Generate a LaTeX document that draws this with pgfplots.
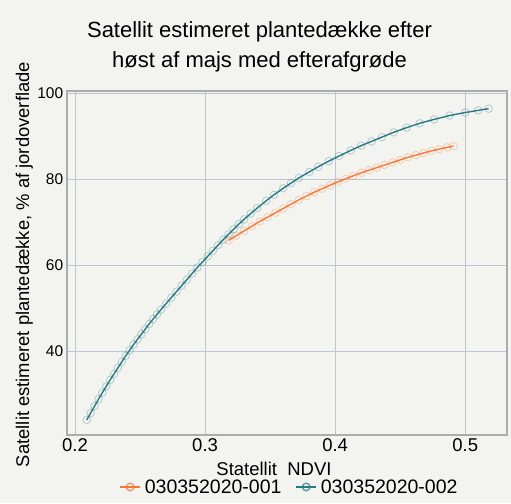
\documentclass[border=0pt]{standalone}
\usepackage{pgfplots}
\pgfplotsset{compat=1.18}
\usepackage{pgfplotstable}
\usepackage{fontspec}
\setmainfont{Liberation Sans}

\definecolor{bgcol}{RGB}{243,243,239}
\definecolor{gridcol}{RGB}{190,198,214}
\definecolor{framecol}{RGB}{172,172,172}
\definecolor{tealc}{RGB}{42,122,132}
\definecolor{orangec}{RGB}{245,122,58}

% 030352020-001
\pgfplotstableread{
x y
0.318 65.8
0.324 66.9
0.330 68.0
0.336 69.1
0.342 70.2
0.348 71.2
0.354 72.2
0.360 73.2
0.366 74.2
0.372 75.2
0.378 76.1
0.384 77.0
0.390 77.8
0.396 78.6
0.402 79.4
0.408 80.1
0.414 80.8
0.420 81.5
0.426 82.1
0.432 82.7
0.438 83.3
0.444 83.9
0.450 84.5
0.456 85.1
0.462 85.6
0.468 86.1
0.474 86.6
0.480 87.0
0.486 87.4
0.491 87.7
}\seriesA

% 030352020-002
\pgfplotstableread{
x y
0.209 24.1
0.212 25.7
0.215 27.3
0.218 28.9
0.221 30.4
0.224 31.9
0.227 33.4
0.230 34.8
0.233 36.2
0.236 37.6
0.239 39.0
0.242 40.3
0.245 41.6
0.248 42.8
0.251 44.0
0.254 45.2
0.257 46.4
0.260 47.5
0.263 48.6
0.266 49.7
0.270 51.1
0.274 52.5
0.278 53.9
0.282 55.3
0.286 56.7
0.290 58.1
0.294 59.5
0.298 60.8
0.302 62.1
0.306 63.4
0.310 64.7
0.314 66.0
0.318 67.2
0.322 68.4
0.326 69.6
0.330 70.7
0.335 72.0
0.340 73.3
0.347 75.0
0.353 76.4
0.360 77.9
0.366 79.1
0.372 80.3
0.380 81.7
0.387 82.9
0.395 84.2
0.403 85.4
0.412 86.7
0.420 87.8
0.428 88.8
0.436 89.8
0.445 90.9
0.455 92.0
0.465 93.0
0.476 93.9
0.488 94.8
0.500 95.5
0.510 96.0
0.518 96.4
}\seriesB

\begin{document}
\begin{tikzpicture}
\fill[bgcol] (0,0) rectangle (511pt,503pt);
\useasboundingbox (0,0) rectangle (511pt,503pt);
\begin{axis}[
  at={(66.7pt,68pt)}, anchor=south west,
  width=440.3pt, height=344pt, scale only axis,
  xmin=0.1936, xmax=0.5321,
  ymin=20.6, ymax=100.5,
  xtick={0.2,0.3,0.4,0.5},
  ytick={40,60,80,100},
  /pgf/number format/assume math mode=true,
  major tick length=0pt,
  grid=major,
  major grid style={draw=gridcol, line width=0.8pt},
  axis line style={draw=framecol, line width=1.6pt},
  xticklabel style={font=\fontsize{18.5}{20}\selectfont},
  yticklabel style={font=\fontsize{15.5}{18}\selectfont},
  title={Satellit estimeret plantedække efter\\høst af majs med efterafgrøde},
  title style={at={(rel axis cs:0.4379,1.1846)}, anchor=north, align=center,
    inner sep=0pt, font=\fontsize{22}{30}\selectfont},
  xlabel={Statellit~~NDVI},
  xlabel style={at={(rel axis cs:0.4708,-0.1163)}, anchor=base, inner sep=0pt,
    font=\fontsize{18.5}{20}\selectfont},
  ylabel={Satellit estimeret plantedække, \% af jordoverflade},
  ylabel style={at={(rel axis cs:-0.0856,0.4956)}, anchor=base, inner sep=0pt,
    font=\fontsize{18.4}{20}\selectfont},
  legend columns=-1,
  legend style={at={(rel axis cs:0.506,-0.151)}, anchor=center, draw=none, fill=none,
    font=\fontsize{19.5}{21}\selectfont,
    /tikz/every odd column/.append style={column sep=2pt},
    /tikz/every even column/.append style={column sep=12pt}},
  legend image code/.code={
    \draw[mark repeat=2, mark phase=2, #1, mark options={draw opacity=0.75, fill opacity=0}]
      plot coordinates {(0pt,0pt) (10pt,0pt) (20pt,0pt)};},
]
\addplot[orangec, line width=1.4pt, mark=o, mark size=3.8pt,
  mark options={line width=0.9pt, draw opacity=0.3, fill=orangec, fill opacity=0.1}]
  table[x=x, y=y] {\seriesA};
\addplot[tealc, line width=1.4pt, mark=o, mark size=3.8pt,
  mark options={line width=0.9pt, draw opacity=0.3, fill=tealc, fill opacity=0.1}]
  table[x=x, y=y] {\seriesB};
\legend{030352020-001, 030352020-002}
\end{axis}
\end{tikzpicture}
\end{document}
